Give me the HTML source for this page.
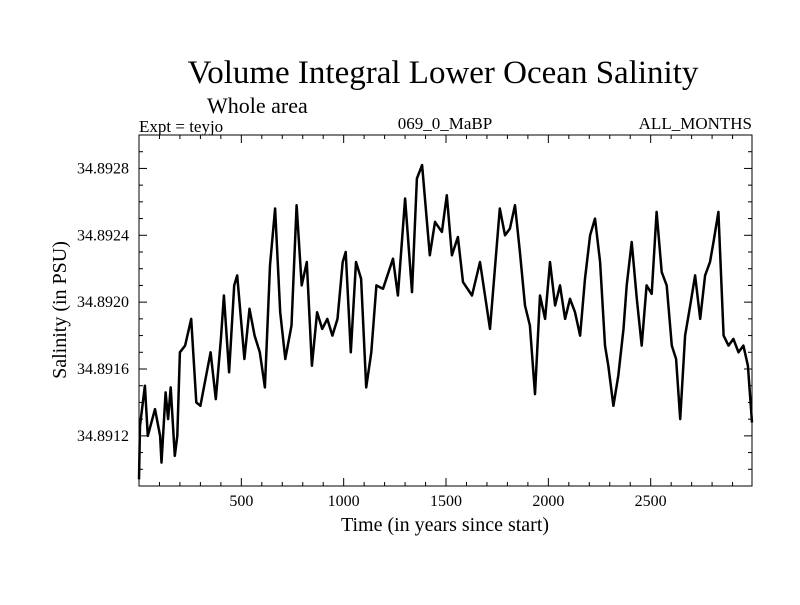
<!DOCTYPE html>
<html><head><meta charset="utf-8"><style>
html,body{margin:0;padding:0;background:#fff;}
svg text{font-family:"Liberation Serif",serif;fill:#000;}
</style></head><body>
<svg id="chart" width="800" height="600" xmlns="http://www.w3.org/2000/svg">
<rect width="800" height="600" fill="#fff"/>
<text x="443" y="83" font-size="33" text-anchor="middle">Volume Integral Lower Ocean Salinity</text>
<text x="207" y="113" font-size="22">Whole area</text>
<text x="139" y="132" font-size="17">Expt = teyjo</text>
<text x="445" y="129" font-size="17" text-anchor="middle">069_0_MaBP</text>
<text x="752" y="129" font-size="17" text-anchor="end">ALL_MONTHS</text>
<g id="axes"></g>
<g id="series"></g>
<rect x="139" y="135" width="613" height="351" fill="none" stroke="#000" stroke-width="1"/>
<text x="445" y="531" font-size="20" text-anchor="middle">Time (in years since start)</text>
<text x="0" y="0" font-size="20" text-anchor="middle" transform="translate(66,310) rotate(-90)">Salinity (in PSU)</text>
</svg>
<script>
const years = [0,5,29,43,78,103,110,130,142,155,175,187,200,225,255,280,300,325,350,375,400,415,440,465,480,515,540,565,590,615,640,665,690,715,745,770,795,820,845,870,895,920,945,970,995,1010,1035,1060,1085,1110,1135,1160,1192,1241,1265,1300,1334,1358,1383,1421,1446,1480,1504,1529,1558,1583,1627,1666,1715,1739,1763,1788,1812,1837,1861,1886,1910,1935,1959,1984,2008,2033,2057,2082,2106,2130,2155,2179,2204,2228,2253,2277,2293,2318,2342,2367,2383,2407,2432,2456,2480,2505,2529,2554,2578,2603,2624,2644,2668,2693,2717,2742,2766,2790,2807,2831,2856,2880,2904,2929,2953,2975,2995];
// salinity values, in units of 1e-4 PSU above 34.8900
const values = [9.4,12.6,15.0,12.0,13.6,12.0,10.4,14.6,13.0,14.9,10.8,12.0,17.0,17.4,19.0,14.0,13.8,15.4,17.0,14.2,17.8,20.4,15.8,21.0,21.6,16.6,19.6,18.0,17.0,14.9,22.2,25.6,19.4,16.6,18.6,25.8,21.0,22.4,16.2,19.4,18.4,19.0,18.0,19.0,22.4,23.0,17.0,22.4,21.4,14.9,17.0,21.0,20.8,22.6,20.4,26.2,20.6,27.4,28.2,22.8,24.8,24.2,26.4,22.8,23.9,21.2,20.4,22.4,18.4,22.0,25.6,24.0,24.4,25.8,23.0,19.8,18.6,14.5,20.4,19.0,22.4,19.8,21.0,19.0,20.2,19.4,18.0,21.4,24.0,25.0,22.4,17.4,16.2,13.8,15.6,18.4,21.0,23.6,20.2,17.4,21.0,20.5,25.4,21.8,21.0,17.4,16.6,13.0,18.0,19.8,21.6,19.0,21.6,22.4,23.6,25.4,18.0,17.4,17.8,17.0,17.4,16.2,12.8,13.6];
const yTicks = ["34.8912","34.8916","34.8920","34.8924","34.8928"];
const xTicks = [500,1000,1500,2000,2500];
const BASE = 34.89, UNIT = 1e-4;
const L=139,R=752,T=135,B=486, XMIN=0,XMAX=2995, YMIN=34.89090, YMAX=34.89300;
const sx = v => L + (v-XMIN)/(XMAX-XMIN)*(R-L);
const sy = v => B - (v-YMIN)/(YMAX-YMIN)*(B-T);
const NS="http://www.w3.org/2000/svg";
const axes=document.getElementById('axes');
function mk(tag,attrs,parent){const e=document.createElementNS(NS,tag);for(const k in attrs)e.setAttribute(k,attrs[k]);parent.appendChild(e);return e;}
for(let t=100;t<XMAX;t+=100){
  const major=t%500===0, len=major?8:4, x=sx(t);
  const a=mk('line',{x1:x,x2:x,y1:B,y2:B-len,stroke:'#000'},axes);
  
  
  const b=mk('line',{x1:x,x2:x,y1:T,y2:T+len,stroke:'#000'},axes);
  
  
}
xTicks.forEach(t=>{
  const tx=mk('text',{x:sx(t),y:B+20,'font-size':16,'text-anchor':'middle'},axes);
  tx.textContent=t;
  
  
});
for(let i=9;i<=29;i++){
  const v=BASE+i*UNIT, major=i%4===0, len=major?8:4, y=sy(v);
  if(y<T+1||y>B-1)continue;
  const a=mk('line',{x1:L,x2:L+len,y1:y,y2:y,stroke:'#000'},axes);
  
  
  const b=mk('line',{x1:R,x2:R-len,y1:y,y2:y,stroke:'#000'},axes);
  
  
}
yTicks.forEach(s=>{
  const tx=mk('text',{x:L-10,y:sy(parseFloat(s))+5,'font-size':16,'text-anchor':'end'},axes);
  tx.textContent=s;
  
  
});
const pts=years.map((yr,i)=>sx(yr).toFixed(1)+','+sy(BASE+values[i]*UNIT).toFixed(1)).join(' ');
const line=mk('polyline',{points:pts,fill:'none',stroke:'#000','stroke-width':2.5,'stroke-linejoin':'round'},document.getElementById('series'));


</script>
</body></html>
